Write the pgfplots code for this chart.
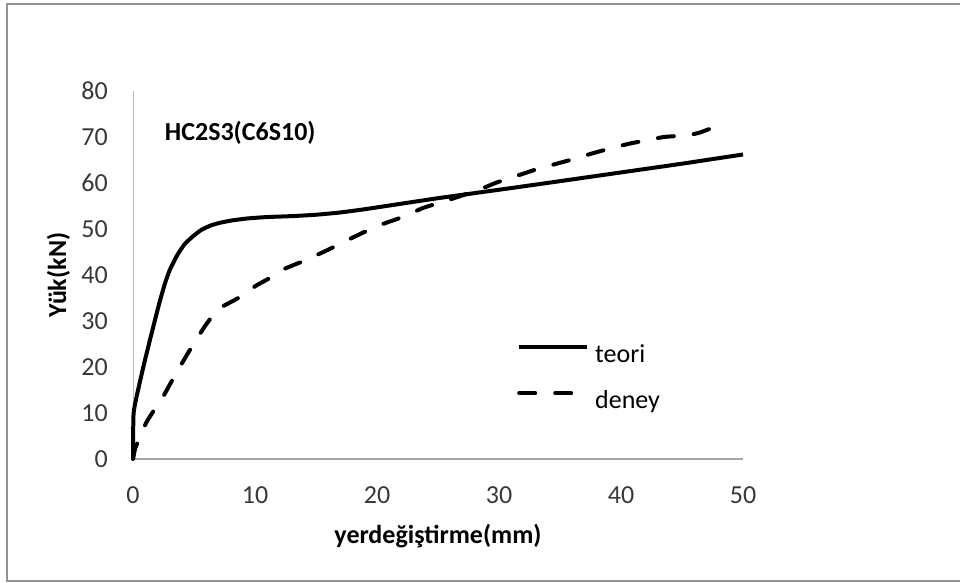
\documentclass[border=0pt]{standalone}
\usepackage{fontspec}
\setmainfont{Carlito}
\usepackage{pgfplots}
\pgfplotsset{compat=1.18}

\pgfplotstableread{
x y
0 0
0.05 10
0.5 16
1.0 21.7
1.4 26
1.8 30.2
2.2 34.3
2.6 38
3.0 41
3.6 44.2
4.2 46.6
4.9 48.4
5.6 49.8
6.4 50.8
7.2 51.4
8.2 51.9
9.4 52.3
11 52.6
13 52.8
15 53.1
17 53.6
19 54.3
21 55.1
23 55.9
25 56.7
28 57.8
31 58.9
35 60.4
40 62.3
45 64.2
50 66.2
}\teori

\pgfplotstableread{
x y
0 0
0.2 2.5
0.7 5.4
1.1 8
1.7 10.5
2.35 13
3.4 18
4.5 23
5.9 28.9
7.0 32.6
8.5 34.8
10.1 37.7
11.6 39.9
12.3 41.2
14.2 43.3
16 45.5
17.6 47.6
19 49.4
20.6 51.2
22.2 52.7
23.8 54.6
25.5 56
27.1 57.4
28.7 58.9
29.8 60.1
31.5 61.6
33.1 63
34.6 64.1
36.1 65.2
37.6 66.4
39.1 67.5
40.6 68.5
42.1 69.3
43.5 70
44.5 70.2
45.7 70.5
46.5 71
47.3 71.8
}\deney

\begin{document}
\begin{tikzpicture}
\path[use as bounding box] (0,0) rectangle (960bp,583bp);
\draw[gray!85, line width=2bp] (960bp,579bp) -- (7bp,579bp) -- (7bp,2bp) -- (960bp,2bp);
\begin{axis}[
  at={(133bp,124bp)}, anchor=south west,
  scale only axis, width=610bp, height=368bp,
  xmin=0, xmax=50, ymin=0, ymax=80,
  xtick={0,10,...,50}, ytick={0,10,...,80},
  axis x line*=bottom, axis y line*=left,
  x axis line style={-, gray!70, line width=1.5bp},
  y axis line style={-, gray!55, line width=1bp},
  major tick length=0pt,
  /pgf/number format/assume math mode=true,
  tick label style={font=\fontsize{26bp}{30bp}\selectfont, text=black!78, inner sep=0pt},
  xticklabel style={anchor=north, yshift=-27bp},
  yticklabel style={anchor=east, xshift=-25bp},
  xlabel={yerdeğiştirme(mm)},
  ylabel={Yük(kN)},
  every axis x label/.style={at={(axis description cs:0.5,0)}, anchor=base, yshift=-84bp,
    inner sep=0pt, font=\fontsize{26bp}{30bp}\selectfont\bfseries},
  every axis y label/.style={at={(axis description cs:0,0.5)}, xshift=-67bp, rotate=90, anchor=base,
    inner sep=0pt, font=\fontsize{26bp}{30bp}\selectfont\bfseries},
  clip=false,
  legend style={at={(axis description cs:0.6295,0.3125)}, anchor=north west, draw=none, fill=none,
    inner sep=0pt, row sep=22bp, font=\fontsize{26bp}{30bp}\selectfont,
    nodes={inner sep=0pt, text height=18bp, text depth=6bp}},
  legend cell align=left,
  legend image code/.code={\draw[#1] (2bp,9bp) -- (70bp,9bp);},
  /tikz/every odd column/.append style={column sep=6bp},
]
\addplot[black, line width=4bp, smooth, tension=0.3] table {\teori};
\addlegendentry{teori}
\addplot[black, line width=4bp, line cap=round, dash pattern=on 16bp off 20bp, smooth, tension=0.3] table {\deney};
\addlegendentry{deney}
\node[anchor=base west, inner sep=0pt, font=\fontsize{26bp}{30bp}\selectfont\bfseries] at (axis cs:2.6,69.3) {HC2S3(C6S10)};
\end{axis}
\end{tikzpicture}
\end{document}
